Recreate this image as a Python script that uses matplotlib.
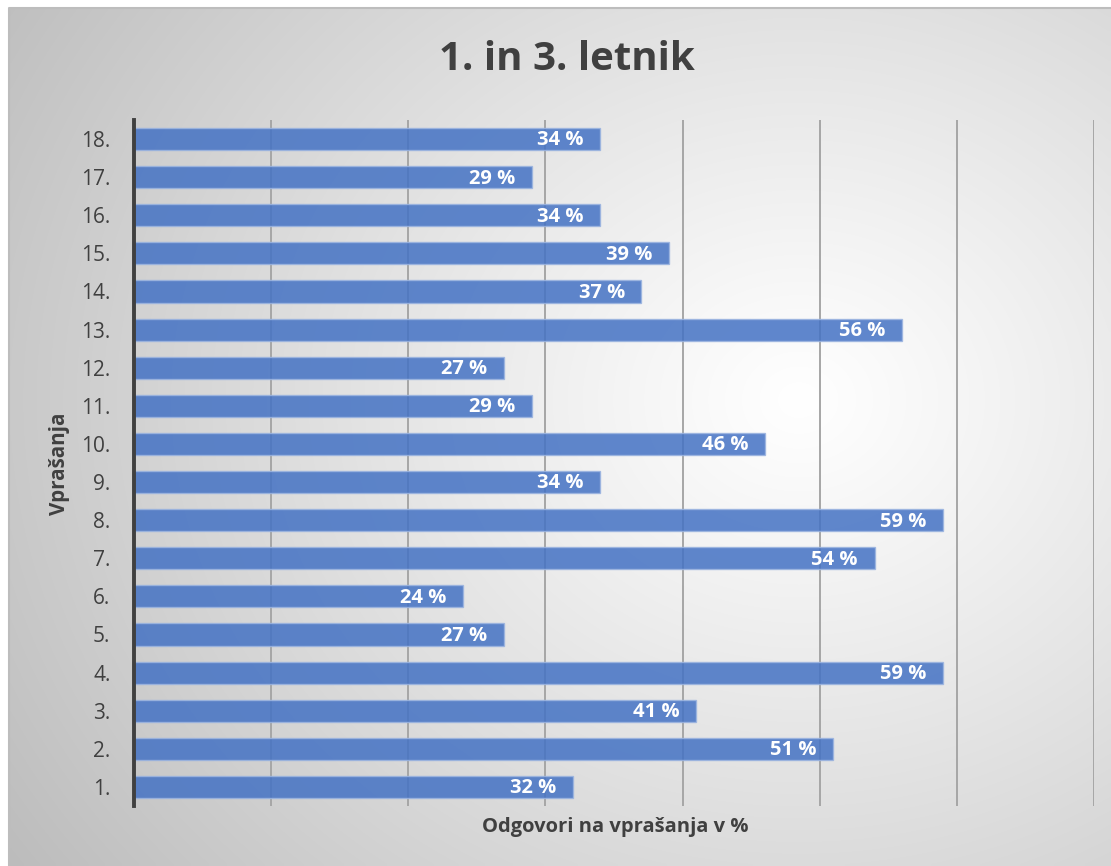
import numpy as np
import matplotlib
matplotlib.use("Agg")
import matplotlib.pyplot as plt

categories = [f"{i}." for i in range(1, 19)]
values = [32, 51, 41, 59, 27, 24, 54, 59, 34, 46, 29, 27, 56, 37, 39, 34, 29, 34]
title = "1. in 3. letnik"
xlabel = "Odgovori na vprašanja v %"
ylabel = "Vprašanja"

plt.rcParams['font.family'] = ['Open Sans', 'DejaVu Sans']

W, H = 1111, 866
fig = plt.figure(figsize=(W / 100, H / 100), dpi=100)
fig.patch.set_facecolor('white')

# background panel with radial gradient
px0, py0 = 9, 8
bg = fig.add_axes([px0 / W, 0, 1 - px0 / W, 1 - py0 / H], zorder=-5)
ny, nx = 200, 260
yy, xx = np.mgrid[0:ny, 0:nx]
X = px0 + xx / (nx - 1) * (W - px0)
Y = py0 + yy / (ny - 1) * (H - py0)
cx, cy = 800, 400
d = np.sqrt(((X - cx) / 820) ** 2 + ((Y - cy) / 700) ** 2)
v = 1 - 0.22 * np.clip(d, 0, 1.4) ** 1.1
img = np.dstack([v, v, v])
bg.imshow(img, aspect='auto', extent=[0, 1, 0, 1], origin='upper', interpolation='bilinear')
bg.set_xlim(0, 1)
bg.set_ylim(0, 1)
bg.axis('off')
bg.plot([0, 0, 1], [0, 1, 1], color='#bdbdbd', lw=1.5, transform=bg.transAxes, clip_on=False)

ax = fig.add_axes([134 / W, 1 - 806 / H, (1094 - 134) / W, (806 - 120) / H])
ax.patch.set_alpha(0)
y = np.arange(1, len(categories) + 1)
ax.barh(y, values, height=0.58, color='#4472C4', alpha=0.85, edgecolor='#9bb4e0', linewidth=1, zorder=3)
ax.set_xlim(0, 70)
ax.set_ylim(0.5, 18.5)
ax.set_xticks(np.arange(0, 71, 10))
ax.set_xticklabels([])
ax.tick_params(axis='x', length=0)
ax.grid(axis='x', color='#a6a6a6', lw=1.4, zorder=1)
ax.set_yticks(y)
ax.set_yticklabels(categories, fontsize=15, color='#404040')
ax.tick_params(axis='y', length=0, pad=17)
for s in ['top', 'right', 'bottom']:
    ax.spines[s].set_visible(False)
ax.spines['left'].set_color('#404040')
ax.spines['left'].set_linewidth(2.8)
ax.spines['left'].set_zorder(4)

for yi, vi in zip(y, values):
    ax.annotate(f"{vi} %", xy=(vi, yi), xytext=(-12, -1), textcoords='offset points',
                ha='right', va='center', color='white', fontsize=14.5, fontweight='bold', zorder=5)

fig.text(567 / W, 1 - 60 / H, title, ha='center', va='center', fontsize=29, fontweight='bold', color='#404040')
fig.text(615 / W, 1 - 827 / H, xlabel, ha='center', va='center', fontsize=14.5, fontweight='bold', color='#404040')
fig.text(60 / W, 1 - 464 / H, ylabel, ha='center', va='center', rotation=90, fontsize=14.8, fontweight='bold', color='#404040')

fig.savefig('out.png', dpi=100, facecolor='white')
